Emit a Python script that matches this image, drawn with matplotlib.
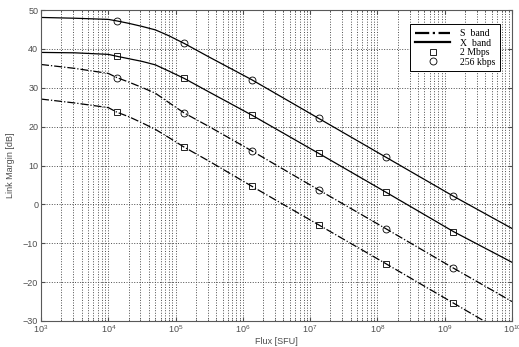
import matplotlib
matplotlib.use("Agg")
import matplotlib.pyplot as plt
from matplotlib.lines import Line2D
import numpy as np

# ── data (x as log10 of flux in SFU) ──
log_flux = [3.0, 3.5, 4.0, 4.13, 4.3, 4.5, 4.7, 4.9, 5.13, 5.5, 6.13, 7.13, 8.13, 9.13, 10.0]

x_256k = [48.1, 47.9, 47.6, 47.2, 46.6, 45.8, 44.9, 43.4, 41.4, 37.9, 32.1, 22.1, 12.1, 2.1, -6.2]
x_2m   = [39.1, 39.0, 38.6, 38.1, 37.5, 36.8, 35.9, 34.3, 32.4, 28.9, 23.0, 13.1, 3.1, -7.0, -14.9]
s_256k = [36.0, 35.0, 33.7, 32.6, 31.5, 30.1, 28.6, 26.2, 23.5, 20.0, 13.8, 3.7, -6.3, -16.4, -25.0]
s_2m   = [27.1, 26.1, 24.9, 23.7, 22.6, 21.0, 19.3, 17.2, 14.7, 11.1, 4.7, -5.3, -15.3, -25.4, -34.2]

marker_log_flux = [4.13, 5.13, 6.13, 7.13, 8.13, 9.13]

flux = 10.0 ** np.array(log_flux)

plt.rcParams["font.family"] = ["Liberation Sans", "DejaVu Sans"]

fig = plt.figure(figsize=(5.19, 3.47), dpi=100)
ax = fig.add_axes([0.079, 0.075, 0.9075, 0.896])

def draw(vals, ls, marker):
    ax.plot(flux, vals, color="black", linestyle=ls, linewidth=0.9)
    idx = [log_flux.index(v) for v in marker_log_flux]
    ax.plot(flux[idx], np.array(vals)[idx], linestyle="none", marker=marker,
            markersize=5, markerfacecolor="none", markeredgecolor="black",
            markeredgewidth=0.6)

draw(x_256k, "-", "o")
draw(x_2m, "-", "s")
draw(s_256k, "-.", "o")
draw(s_2m, "-.", "s")

ax.set_xscale("log")
ax.set_xlim(1e3, 1e10)
ax.set_ylim(-30, 50)
ax.set_yticks(range(-30, 51, 10))
ax.set_xticks([10.0 ** k for k in range(3, 11)])
ax.grid(True, which="major", color="0.3", linestyle=":", linewidth=0.7)
ax.grid(True, which="minor", axis="x", color="0.3", linestyle=":", linewidth=0.7)
ax.tick_params(which="both", direction="in", labelsize=6.5, colors="0.3",
               top=True, right=True, length=3, pad=2)
ax.tick_params(which="minor", length=1.5)
for sp in ax.spines.values():
    sp.set_color("0.35")
    sp.set_linewidth(0.8)

ax.set_xlabel("Flux [SFU]", fontsize=6.5, color="0.3", labelpad=1)
ax.set_ylabel("Link Margin [dB]", fontsize=6.5, color="0.3", labelpad=6)

handles = [
    Line2D([], [], color="black", linestyle="-.", linewidth=1.6),
    Line2D([], [], color="black", linestyle="-", linewidth=1.6),
    Line2D([], [], linestyle="none", marker="s", markersize=5,
           markerfacecolor="none", markeredgecolor="black", markeredgewidth=0.6),
    Line2D([], [], linestyle="none", marker="o", markersize=5,
           markerfacecolor="none", markeredgecolor="black", markeredgewidth=0.6),
]
leg = ax.legend(handles, ["S  band", "X  band", "2 Mbps", "256 kbps"],
                loc="upper right", bbox_to_anchor=(0.985, 0.97),
                prop={"family": "Liberation Serif", "size": 7},
                fancybox=False, framealpha=1, edgecolor="black",
                handlelength=3.6, handletextpad=1.0, labelspacing=0.05,
                borderpad=0.5)
leg.get_frame().set_linewidth(0.7)

fig.savefig("out.png", dpi=100)
